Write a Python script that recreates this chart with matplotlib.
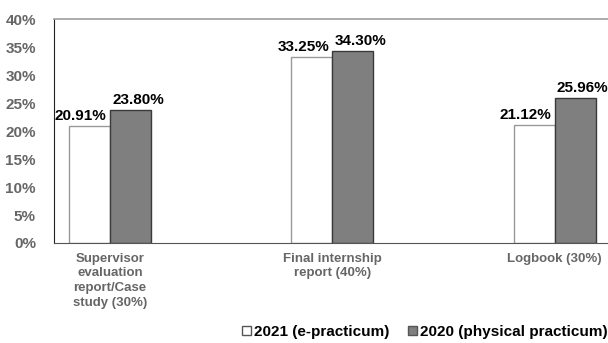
import numpy as np
import matplotlib.pyplot as plt
from matplotlib.patches import Patch

plt.rcParams['font.family'] = ['Liberation Sans', 'DejaVu Sans']

categories = ['Supervisor\nevaluation\nreport/Case\nstudy (30%)',
              'Final internship\nreport (40%)',
              'Logbook (30%)']
values_2021 = [20.91, 33.25, 21.12]
values_2020 = [23.80, 34.30, 25.96]
labels_2021 = ['20.91%', '33.25%', '21.12%']
labels_2020 = ['23.80%', '34.30%', '25.96%']
yticks = [0, 5, 10, 15, 20, 25, 30, 35, 40]

fig = plt.figure(figsize=(6.08, 3.43), dpi=100)
ax = fig.add_axes([54 / 608, 1 - 243 / 343, 1 - 54 / 608, 224 / 343])

x = np.arange(len(categories))
w = 0.184
ax.bar(x - w / 2, values_2021, w, color='white', edgecolor='#999999', linewidth=1.0)
ax.bar(x + w / 2, values_2020, w, color='#7f7f7f', edgecolor='#3a3a3a', linewidth=1.0)

# labels sit slightly outward from each pair, as in the original
for xi, v, t in zip(x, values_2021, labels_2021):
    ax.text(xi - 0.015, v + 0.5, t, ha='right', va='bottom', fontsize=11, fontweight='bold', color='black')
for xi, v, t in zip(x, values_2020, labels_2020):
    ax.text(xi + 0.01, v + 0.5, t, ha='left', va='bottom', fontsize=11, fontweight='bold', color='black')

ax.set_xlim(-0.252, 2.24)
ax.set_ylim(0, 40)
ax.set_yticks(yticks)
ax.set_yticklabels([f'{t}%' for t in yticks], fontsize=11, fontweight='bold', color='#666666')
ax.set_xticks(x)
ax.set_xticklabels(categories, fontsize=9.5, fontweight='bold', color='#666666', linespacing=1.3)
ax.tick_params(axis='x', length=0, pad=7)
ax.tick_params(axis='y', length=0, pad=13)

ax.spines['right'].set_visible(False)
ax.spines['top'].set_color('#a0a0a0')
ax.spines['top'].set_linewidth(1.2)
ax.spines['left'].set_color('#222222')
ax.spines['bottom'].set_color('#555555')

handles = [Patch(facecolor='white', edgecolor='#555555', label='2021 (e-practicum)'),
           Patch(facecolor='#7f7f7f', edgecolor='#555555', label='2020 (physical practicum)')]
fig.legend(handles=handles, loc='center right', bbox_to_anchor=(1.0, 1 - 332 / 343), ncol=2,
           frameon=False, prop={'weight': 'bold', 'size': 11}, handlelength=0.6, handleheight=0.6,
           handletextpad=0.2, columnspacing=1.2, borderaxespad=0.0, borderpad=0.0)

plt.savefig('out.png', dpi=100)
